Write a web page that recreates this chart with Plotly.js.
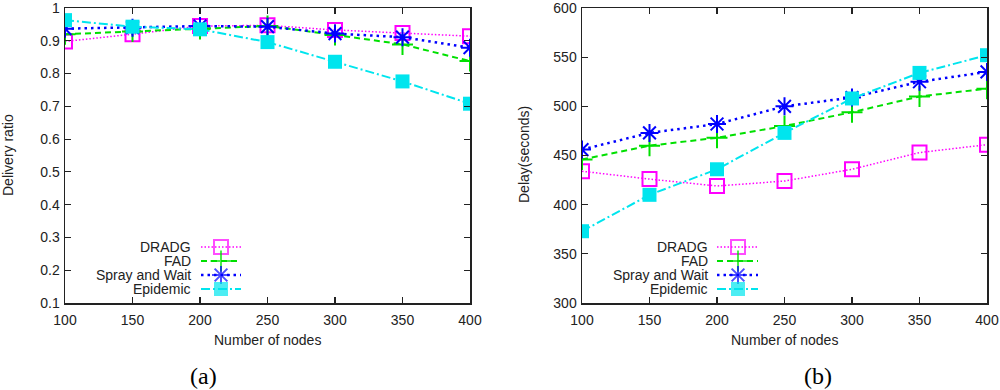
<!DOCTYPE html>
<html>
<head>
<meta charset="utf-8">
<script src="https://cdn.plot.ly/plotly-3.0.1.min.js"></script>
<style>html,body{margin:0;padding:0;background:#fff;}#chart{width:1000px;height:390px;}</style>
</head>
<body>
<div id="chart"></div>
<script>
// ---- data ----
const nodes = [100, 150, 200, 250, 300, 350, 400];
const seriesNames = ["DRADG", "FAD", "Spray and Wait", "Epidemic"];

const ratioDRADG    = [0.898, 0.920, 0.945, 0.947, 0.933, 0.924, 0.914];
const ratioFAD      = [0.920, 0.928, 0.936, 0.945, 0.918, 0.889, 0.838];
const ratioSpray    = [0.937, 0.940, 0.945, 0.943, 0.922, 0.911, 0.879];
const ratioEpidemic = [0.963, 0.943, 0.935, 0.896, 0.836, 0.776, 0.708];

const delayDRADG    = [434, 426, 419, 424, 436, 453, 461];
const delayFAD      = [446, 460, 468, 480, 494, 510, 518];
const delaySpray    = [456, 473, 482, 500, 509, 525, 535];
const delayEpidemic = [373, 410, 436, 473, 508, 534, 552];

const xTicks = [100, 150, 200, 250, 300, 350, 400];
const ratioTicks = [0.1, 0.2, 0.3, 0.4, 0.5, 0.6, 0.7, 0.8, 0.9, 1];
const ratioTickText = ["0.1","0.2","0.3","0.4","0.5","0.6","0.7","0.8","0.9","1"];
const delayTicks = [300, 350, 400, 450, 500, 550, 600];

// ---- styles ----
const styles = [
  {color:"#ff00ff", dash:"1.5px,2px", width:1.5, symbol:"square-open", size:14, lw:2},
  {color:"#00e000", dash:"6px,4px", width:2, symbol:"cross-thin-open", size:15, lw:2},
  {color:"#0000ff", dash:"2.5px,4px", width:2.5, symbol:"asterisk-open", size:15, lw:2},
  {color:"#00e5ee", dash:"9px,3px,2px,3px", width:2, symbol:"square", size:14, lw:0}
];

const W = 1000, H = 390;
const px = v => v / W;
const py = v => 1 - v / H;
const PLOT_TOP = 8, PLOT_BOTTOM = 303;

function mk(y, i, xa, ya) {
  const s = styles[i];
  return {
    x: nodes, y: y, xaxis: xa, yaxis: ya, type: "scatter", mode: "lines+markers",
    name: seriesNames[i], showlegend: false, hoverinfo: "skip",
    line: {color: s.color, dash: s.dash, width: s.width},
    marker: {symbol: s.symbol, size: s.size, color: s.color,
             line: {color: s.color, width: s.lw}}
  };
}

const traces = [
  mk(ratioDRADG, 0, "x", "y"), mk(ratioFAD, 1, "x", "y"),
  mk(ratioSpray, 2, "x", "y"), mk(ratioEpidemic, 3, "x", "y"),
  mk(delayDRADG, 0, "x2", "y2"), mk(delayFAD, 1, "x2", "y2"),
  mk(delaySpray, 2, "x2", "y2"), mk(delayEpidemic, 3, "x2", "y2")
];

// ---- custom gnuplot-style legends (text, then sample) on a pixel helper axis ----
const legendRows = [247, 261, 275, 289];
const legends = [
  {textRight: 193, x0: 201, x1: 241, xm: 221},
  {textRight: 710, x0: 717, x1: 758, xm: 738}
];
const FONT_FAMILY = "Liberation Sans";
const annotations = [];
legends.forEach(L => {
  seriesNames.forEach((nm, i) => {
    const s = styles[i];
    const yy = legendRows[i];
    traces.push({
      x: [L.x0, L.xm, L.x1], y: [yy, yy, yy], xaxis: "x3", yaxis: "y3",
      type: "scatter", mode: "lines+markers", showlegend: false, hoverinfo: "skip",
      line: {color: s.color, dash: s.dash, width: s.width},
      marker: {symbol: s.symbol, size: [0, s.size, 0], color: s.color,
               line: {color: s.color, width: s.lw}}
    });
    annotations.push({
      xref: "paper", yref: "paper", x: px(L.textRight), y: py(yy),
      xanchor: "right", yanchor: "middle", showarrow: false, text: nm,
      font: {family: FONT_FAMILY, size: 14, color: "#222"}
    });
  });
});

const font = {family: FONT_FAMILY, size: 14, color: "#222"};
function titleAnn(text, x, y, angle) {
  return {xref: "paper", yref: "paper", x: px(x), y: py(y), xanchor: "center",
          yanchor: "middle", showarrow: false, text: text, textangle: angle || 0, font: font};
}
annotations.push(titleAnn("Number of nodes", 267, 340));
annotations.push(titleAnn("Number of nodes", 784, 340));
annotations.push(titleAnn("Delivery ratio", 8, 155, -90));
annotations.push(titleAnn("Delay(seconds)", 524, 155, -90));
annotations.push({xref:"paper", yref:"paper", x:px(203), y:py(376), xanchor:"center", yanchor:"middle",
  showarrow:false, text:"(a)", font:{family:"Liberation Serif", size:24, color:"#000"}});
annotations.push({xref:"paper", yref:"paper", x:px(818), y:py(376), xanchor:"center", yanchor:"middle",
  showarrow:false, text:"(b)", font:{family:"Liberation Serif", size:24, color:"#000"}});

const baseAxis = {
  showline: true, linecolor: "#222", linewidth: 1.5, mirror: "ticks",
  ticks: "inside", ticklen: 6, tickwidth: 1.2, tickcolor: "#222",
  showgrid: false, zeroline: false, tickfont: font, fixedrange: true,
  ticklabeloverflow: "allow"
};

const layout = {
  width: W, height: H, margin: {l: 0, r: 0, t: 0, b: 0},
  paper_bgcolor: "#fff", plot_bgcolor: "rgba(0,0,0,0)", showlegend: false,
  font: {family: FONT_FAMILY},
  xaxis: Object.assign({}, baseAxis, {domain: [px(65), px(470)], range: [100, 400],
    tickvals: xTicks, anchor: "y", ticklabelstandoff: 4}),
  yaxis: Object.assign({}, baseAxis, {domain: [py(PLOT_BOTTOM), py(PLOT_TOP)], range: [0.1, 1],
    tickvals: ratioTicks, ticktext: ratioTickText, anchor: "x", ticklabelstandoff: 1}),
  xaxis2: Object.assign({}, baseAxis, {domain: [px(582), px(987)], range: [100, 400],
    tickvals: xTicks, anchor: "y2", ticklabelstandoff: 4}),
  yaxis2: Object.assign({}, baseAxis, {domain: [py(PLOT_BOTTOM), py(PLOT_TOP)], range: [300, 600],
    tickvals: delayTicks, anchor: "x2", ticklabelstandoff: 1}),
  xaxis3: {domain: [0, 1], range: [0, W], visible: false, fixedrange: true, anchor: "y3"},
  yaxis3: {domain: [0, 1], range: [H, 0], visible: false, fixedrange: true, anchor: "x3"},
  annotations: annotations
};

Plotly.newPlot("chart", traces, layout, {displayModeBar: false, staticPlot: true});
</script>
</body>
</html>
